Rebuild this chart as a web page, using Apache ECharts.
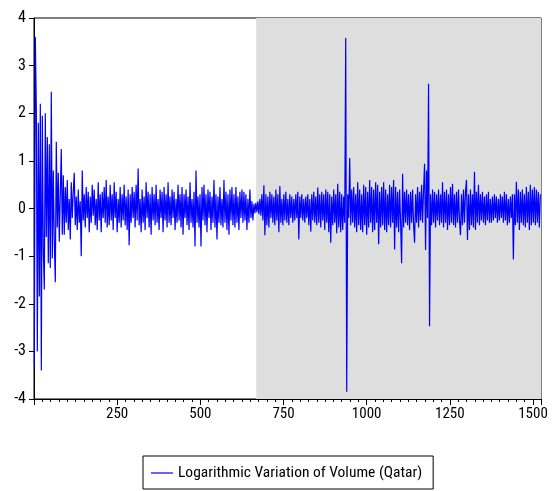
<!DOCTYPE html>
<html><head><meta charset="utf-8">
<script src="https://cdn.jsdelivr.net/npm/echarts@6/dist/echarts.min.js"></script>
<style>html,body{margin:0;padding:0;background:#fff}#c{width:552px;height:491px}</style>
</head><body><div id="c"></div>
<script>
var seriesName = 'Logarithmic Variation of Volume (Qatar)';
var xStart = 1, xStep = 3;
var shadeFrom = 668, shadeTo = 1524;
var xTickLabels = [250, 500, 750, 1000, 1250, 1500];
var yTickLabels = [-4, -3, -2, -1, 0, 1, 2, 3, 4];
var values = [
-3.3, 3.6, 2.1, -3.0, 1.8, -1.85, 2.2, -3.4, 1.95, -0.9,
-1.7, 2.0, -0.6, 1.5, -1.15, 1.35, -1.25, 2.45, -1.05, 0.8,
-0.7, -1.55, 1.4, -0.4, 0.75, -0.7, 0.3, 1.25, -0.55, 0.7,
-0.55, 0.45, -0.3, 0.6, -0.45, 0.2, -0.65, 0.55, -0.2, 0.35,
0.75, -0.35, 0.25, -0.45, 0.4, -0.3, 0.15, -1.0, 0.8, -0.25,
0.3, -0.4, 0.45, -0.2, 0.35, -0.5, 0.25, -0.3, 0.5, -0.15,
0.4, -0.35, 0.2, -0.45, 0.55, -0.25, 0.3, -0.5, 0.35, -0.2,
0.45, -0.3, 0.6, -0.4, 0.25, -0.35, 0.5, -0.25, 0.3, -0.45,
0.55, -0.2, 0.35, -0.5, 0.2, -0.3, 0.45, -0.4, 0.3, -0.25,
0.5, -0.35, 0.25, -0.45, 0.4, -0.77, 0.3, -0.3, 0.45, -0.2,
0.35, -0.4, 0.5, -0.25, 0.84, -0.35, 0.2, -0.5, 0.4, -0.3,
0.25, -0.45, 0.55, -0.2, 0.35, -0.4, 0.3, -0.55, 0.45, -0.25,
0.3, -0.35, 0.5, -0.3, 0.2, -0.45, 0.4, -0.2, 0.35, -0.5,
0.45, -0.25, 0.3, -0.4, 0.55, -0.3, 0.25, -0.35, 0.4, -0.2,
0.35, -0.45, 0.2, -0.3, 0.5, -0.25, 0.3, -0.4, 0.45, -0.55,
0.3, -0.2, 0.4, -0.35, 0.25, -0.45, 0.55, -0.3, 0.2, -0.4,
0.35, -0.8, 0.8, -0.3, 0.25, -0.4, 0.3, -0.8, 0.45, -0.25,
0.5, -0.35, 0.3, -0.5, 0.4, -0.2, 0.35, -0.45, 0.25, -0.3,
0.6, -0.4, 0.3, -0.65, 0.25, -0.3, 0.45, -0.35, 0.2, -0.4,
0.6, -0.3, 0.35, -0.45, 0.3, -0.55, 0.4, -0.25, 0.45, -0.35,
0.3, -0.4, 0.45, -0.3, 0.25, -0.45, 0.35, -0.2, 0.4, -0.3,
0.35, -0.25, 0.3, -0.45, 0.2, -0.3, 0.4, -0.2, 0.15, -0.25,
0.1, -0.1, 0.12, -0.08, 0.15, -0.12, 0.2, -0.15, 0.3, -0.25,
0.49, -0.56, 0.3, -0.35, 0.25, -0.4, 0.35, -0.2, 0.3, -0.3,
0.25, -0.35, 0.4, -0.25, 0.3, -0.5, 0.47, -0.3, 0.2, -0.35,
0.3, -0.25, 0.35, -0.3, 0.2, -0.35, 0.3, -0.2, 0.25, -0.3,
0.2, -0.25, 0.3, -0.2, 0.35, -0.65, 0.25, -0.2, 0.3, -0.25,
0.2, -0.3, 0.25, -0.2, 0.3, -0.35, 0.2, -0.49, 0.3, -0.25,
0.35, -0.3, 0.25, -0.35, 0.44, -0.3, 0.3, -0.4, 0.35, -0.25,
0.3, -0.45, 0.4, -0.3, 0.35, -0.5, 0.3, -0.72, 0.25, -0.35,
0.4, -0.3, 0.3, -0.52, 0.52, -0.4, 0.35, -0.5, 0.3, -0.45,
0.25, -0.3, 3.58, -3.85, 0.3, -0.2, 1.06, -0.35, 0.4, -0.3,
0.45, -0.4, 0.3, -0.5, 0.55, -0.35, 0.4, -0.45, 0.3, -0.5,
0.5, -0.35, 0.45, -0.55, 0.35, -0.4, 0.6, -0.3, 0.45, -0.5,
0.4, -0.45, 0.55, -0.3, 0.5, -0.75, 0.35, -0.4, 0.45, -0.35,
0.55, -0.45, 0.4, -0.5, 0.3, -0.35, 0.5, -0.4, 0.45, -0.3,
0.6, -0.86, 0.45, -0.4, 0.35, -0.5, 0.4, -0.3, -1.15, 0.73,
-0.4, 0.35, -0.3, 0.4, -0.35, 0.3, -0.45, 0.35, -0.3, 0.4,
-0.35, -0.72, 0.3, -0.3, 0.45, -0.4, 0.35, -0.25, 0.5, -0.3,
0.4, 0.94, -0.87, 0.8, -0.2, 2.62, -2.47, 0.3, -0.35, 0.4,
-0.3, 0.35, -0.4, 0.3, -0.25, 0.4, -0.35, 0.3, -0.3, 0.55,
-0.4, 0.35, -0.3, 0.4, -0.45, 0.3, -0.35, 0.45, -0.3, 0.52,
-0.35, 0.3, -0.4, 0.35, -0.3, 0.4, -0.25, -0.56, 0.3, -0.35,
0.4, -0.3, 0.35, 0.6, -0.66, 0.3, -0.45, 0.4, -0.35, 0.3,
-0.4, 0.77, -0.45, 0.35, -0.3, 0.5, -0.35, 0.3, -0.25, 0.35,
-0.3, 0.25, -0.35, 0.3, -0.25, 0.35, -0.3, 0.2, -0.3, 0.25,
-0.25, 0.3, -0.2, 0.25, -0.3, 0.2, -0.25, 0.3, -0.2, 0.25,
-0.3, 0.35, -0.25, 0.3, -0.35, 0.2, -0.3, 0.25, -0.2, 0.3,
-1.07, 0.3, -0.35, 0.56, -0.3, 0.4, -0.45, 0.35, -0.3, 0.4,
-0.35, 0.3, -0.4, 0.45, -0.3, 0.35, -0.45, 0.5, -0.35, 0.4,
-0.3, 0.45, -0.35, 0.4, -0.3, 0.35, -0.4, 0.3
];

var data = values.map(function (v, i) { return [xStart + i * xStep, v]; });
var FONT = "'Roboto Condensed', 'Liberation Sans', sans-serif";
var chart = echarts.init(document.getElementById('c'), null, {renderer: 'canvas'});
chart.setOption({
  animation: false,
  backgroundColor: '#fff',
  grid: {left: 34, top: 18, right: 11, bottom: 92, show: true, borderColor: '#000', borderWidth: 1, backgroundColor: 'transparent', containLabel: false},
  legend: {
    data: [seriesName], left: 143, top: 456, padding: [9, 11, 8, 8],
    borderColor: '#000', borderWidth: 1, icon: 'rect', itemWidth: 22, itemHeight: 1.2, itemGap: 6,
    textStyle: {fontFamily: FONT, fontSize: 15.5, color: '#000'}
  },
  xAxis: [{
    type: 'value', min: 0, max: shadeTo, interval: 25,
    splitLine: {show: false},
    axisLine: {show: true, onZero: false, lineStyle: {color: '#000'}},
    axisTick: {show: true, length: 3, lineStyle: {color: '#000'}},
    axisLabel: {
      margin: 8, fontFamily: FONT, fontSize: 15, color: '#000',
      formatter: function (v) { return xTickLabels.indexOf(v) >= 0 ? String(v) : ''; }
    }
  }, {
    type: 'value', min: 0, max: shadeTo, interval: 250, position: 'bottom',
    splitLine: {show: false}, axisLine: {show: false, onZero: false},
    axisTick: {show: true, length: 6, lineStyle: {color: '#000'}},
    axisLabel: {show: false}
  }],
  yAxis: {
    type: 'value', min: yTickLabels[0], max: yTickLabels[yTickLabels.length - 1], interval: 1,
    splitLine: {show: false},
    axisLine: {show: true, onZero: false, lineStyle: {color: '#000'}},
    axisTick: {show: true, length: 5, lineStyle: {color: '#000'}},
    axisLabel: {margin: 8, fontFamily: FONT, fontSize: 16, color: '#000'}
  },
  series: [{
    name: seriesName, type: 'line', data: data, xAxisIndex: 0,
    symbol: 'none', showSymbol: false, color: '#0000ff',
    lineStyle: {color: '#0000ff', width: 1.2},
    markArea: {silent: true, itemStyle: {color: '#dedede'}, data: [[{xAxis: shadeFrom}, {xAxis: shadeTo}]]}
  }]
});
</script></body></html>
